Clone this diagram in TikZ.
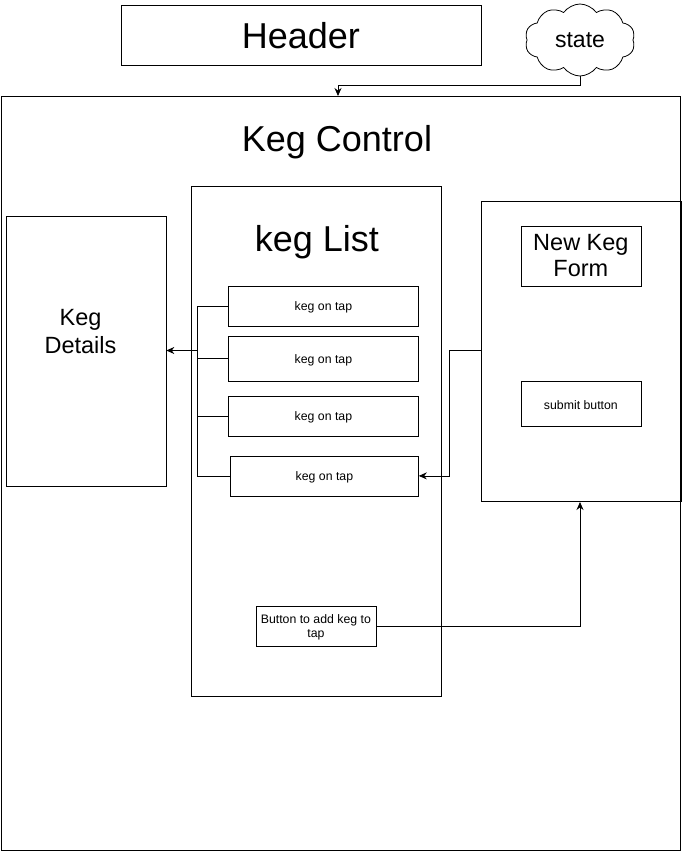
\documentclass[tikz,border=0pt]{standalone}
\usepackage{fontspec}
\setmainfont{Liberation Sans}
\usetikzlibrary{shapes.symbols,arrows.meta}
\begin{document}
\begin{tikzpicture}[x=1pt,y=-1pt,
  box/.style={draw,line width=0.8pt,inner sep=0pt,anchor=north west},
  small/.style={font=\fontsize{12.3}{14}\selectfont},
  big/.style={font=\fontsize{36}{40}\selectfont},
  mid/.style={font=\fontsize{23.5}{28}\selectfont,align=center},
  conn/.style={line width=0.8pt},
  arr/.style={line width=0.8pt,-{Stealth[length=8pt,width=7pt]}}]
\useasboundingbox (0,0) rectangle (681,851);
% boxes
\node[box,minimum width=360pt,minimum height=60pt] (header) at (120.5,5.5) {};
\node[big] at (header.center) {Header};
\node[cloud,draw,line width=0.8pt,cloud puffs=10,cloud puff arc=110,aspect=1.6,minimum width=110pt,minimum height=72pt,inner sep=0pt,font=\fontsize{23}{26}\selectfont] (state) at (580,40) {state};
\node[box,minimum width=679pt,minimum height=754pt] (control) at (0.5,96) {};
\node[big] at (337,142) {Keg Control};
\node[box,minimum width=250pt,minimum height=510pt] (list) at (190.5,185.5) {};
\node[big] at (317,242) {keg List};
\node[box,minimum width=160pt,minimum height=270pt] (details) at (5.5,215.5) {};
\node[mid,font=\fontsize{23.5}{28}\selectfont] at (80.5,332) {Keg\\Details};
\node[box,minimum width=200pt,minimum height=300pt] (form) at (480.5,200.5) {};
\node[box,minimum width=120pt,minimum height=60pt] (newform) at (520.5,225.5) {};
\node[mid,font=\fontsize{23.5}{26}\selectfont] at (newform.center) {New Keg\\Form};
\node[box,minimum width=120pt,minimum height=45pt] (submit) at (520.5,380.5) {};
\node[small] at ([yshift=-1.5pt]submit.center) {submit button};
\node[box,minimum width=190pt,minimum height=40pt] (k1) at (228,285.5) {};
\node[small] at ([yshift=-1.5pt]k1.center) {keg on tap};
\node[box,minimum width=190pt,minimum height=45pt] (k2) at (228,335.5) {};
\node[small] at ([yshift=-1.5pt]k2.center) {keg on tap};
\node[box,minimum width=190pt,minimum height=40pt] (k3) at (228,395.5) {};
\node[small] at ([yshift=-1.5pt]k3.center) {keg on tap};
\node[box,minimum width=188pt,minimum height=40pt] (k4) at (230,455.5) {};
\node[small] at ([yshift=-1.5pt]k4.center) {keg on tap};
\node[box,minimum width=120pt,minimum height=40pt] (btn) at (255.5,605.5) {};
\node[small,align=center] at ([yshift=-1pt]btn.center) {Button to add keg to\\tap};
% connectors
\coordinate (j) at (197,350.5);
\draw[conn] (k1.west) -| (j);
\draw[conn] (k2.west) -| (j);
\draw[conn] (k3.west) -| (j);
\draw[conn] (k4.west) -| (j);
\draw[arr] (j) -- (details.east |- j);
\draw[arr] (form.west |- 0,350.5) -- (449,350.5) |- (k4.east);
\draw[arr] (btn.east) -| (580,502);
\draw[arr] (state.south) |- (338,85.5) -- (338,96);
\end{tikzpicture}
\end{document}
